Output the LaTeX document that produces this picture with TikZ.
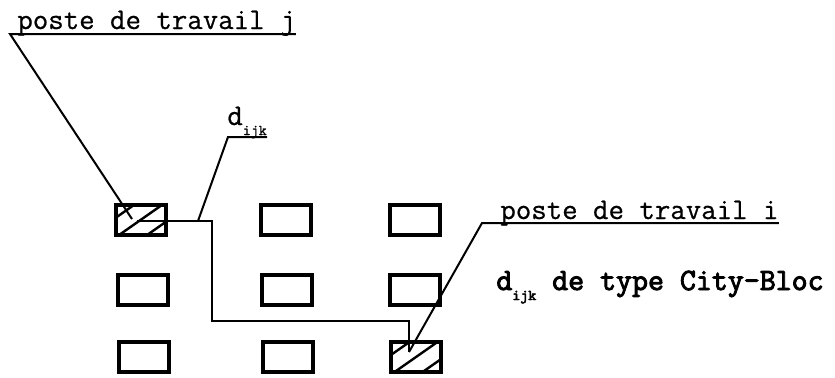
\documentclass[tikz,border=0pt]{standalone}
\usepackage{fontspec}
\usepackage{tikz}
\usetikzlibrary{positioning}

\newfontfamily\courierlike{Latin Modern Mono}[FakeBold=0.6]
\newfontfamily\courierbold{Latin Modern Mono}[FakeBold=3]
\newcommand{\subidx}[1]{\raisebox{-5pt}{\fontsize{7.5}{9}\selectfont #1}}

\begin{document}
\begin{tikzpicture}[x=0.5pt, y=-0.5pt,
	boxnode/.style={rectangle, draw=black, line width=2pt, minimum width=25pt, minimum height=15pt, inner sep=0pt},
	hatchline/.style={line width=1.2pt},
	leaderline/.style={line width=1pt},
	citypath/.style={line width=1.4pt, line join=miter},
	labeltext/.style={anchor=base west, inner sep=0pt, font=\fontsize{15}{18}\selectfont\courierlike},
	boldtext/.style={anchor=base west, inner sep=0pt, font=\fontsize{15.5}{18}\selectfont\courierbold},
	]
	\useasboundingbox (0,0) rectangle (835,377);

	% Nodes
	\node[boxnode]          (box_11)        at (140.5, 220)     {};
	\node[boxnode]          (box_12)        at (285.5, 220)     {};
	\node[boxnode]          (box_13)        at (414.5, 220)     {};
	\node[boxnode]          (box_21)        at (143, 289.5)     {};
	\node[boxnode]          (box_22)        at (286.5, 289.5)   {};
	\node[boxnode]          (box_23)        at (414.5, 289.5)   {};
	\node[boxnode]          (box_31)        at (143.5, 357)     {};
	\node[boxnode]          (box_32)        at (288, 357)       {};
	\node[boxnode]          (box_33)        at (416, 357)       {};

	\node[labeltext]        (poste_j)       at (17, 29)         {poste de travail j};
	\node[labeltext]        (poste_i)       at (500, 219)       {poste de travail i};
	\node[labeltext]        (dist_label)    at (227, 125)       {d\subidx{ijk}};
	\node[boldtext]         (type_label)    at (496, 290)       {d\subidx{ijk} de type City-Bloc};

	\coordinate (j_foot)    at (132, 219);
	\coordinate (j_corner)  at (10, 34);
	\coordinate (i_foot)    at (409, 352);
	\coordinate (i_corner)  at (482, 223);
	\coordinate (d_foot)    at (198, 221);
	\coordinate (d_corner)  at (228, 137);
	\coordinate (path_start) at (137, 221);
	\coordinate (path_bend1) at (212, 221);
	\coordinate (path_bend2) at (212, 321);
	\coordinate (path_bend3) at (409, 321);
	\coordinate (path_end)   at (409, 352);

	% Hatching
	\begin{scope}
		\clip ([shift={(-25,-15)}]box_11.center) rectangle ([shift={(25,15)}]box_11.center);
		\draw[hatchline] ([shift={(-58,21)}]box_11.center) -- ([shift={(2,-21)}]box_11.center);
		\draw[hatchline] ([shift={(-30,21)}]box_11.center) -- ([shift={(30,-21)}]box_11.center);
		\draw[hatchline] ([shift={(-2,21)}]box_11.center) -- ([shift={(58,-21)}]box_11.center);
	\end{scope}
	\begin{scope}
		\clip ([shift={(-25,-15)}]box_33.center) rectangle ([shift={(25,15)}]box_33.center);
		\draw[hatchline] ([shift={(-58,21)}]box_33.center) -- ([shift={(2,-21)}]box_33.center);
		\draw[hatchline] ([shift={(-30,21)}]box_33.center) -- ([shift={(30,-21)}]box_33.center);
		\draw[hatchline] ([shift={(-2,21)}]box_33.center) -- ([shift={(58,-21)}]box_33.center);
	\end{scope}

	% Lines
	\draw[citypath]   (path_start) -- (path_bend1) -- (path_bend2) -- (path_bend3) -- (path_end);
	\draw[leaderline] (j_foot) -- (j_corner) -- (j_corner -| poste_j.east);
	\draw[leaderline] (i_foot) -- (i_corner) -- (i_corner -| poste_i.east);
	\draw[leaderline] (d_foot) -- (d_corner) -- (d_corner -| dist_label.east);
\end{tikzpicture}
\end{document}
